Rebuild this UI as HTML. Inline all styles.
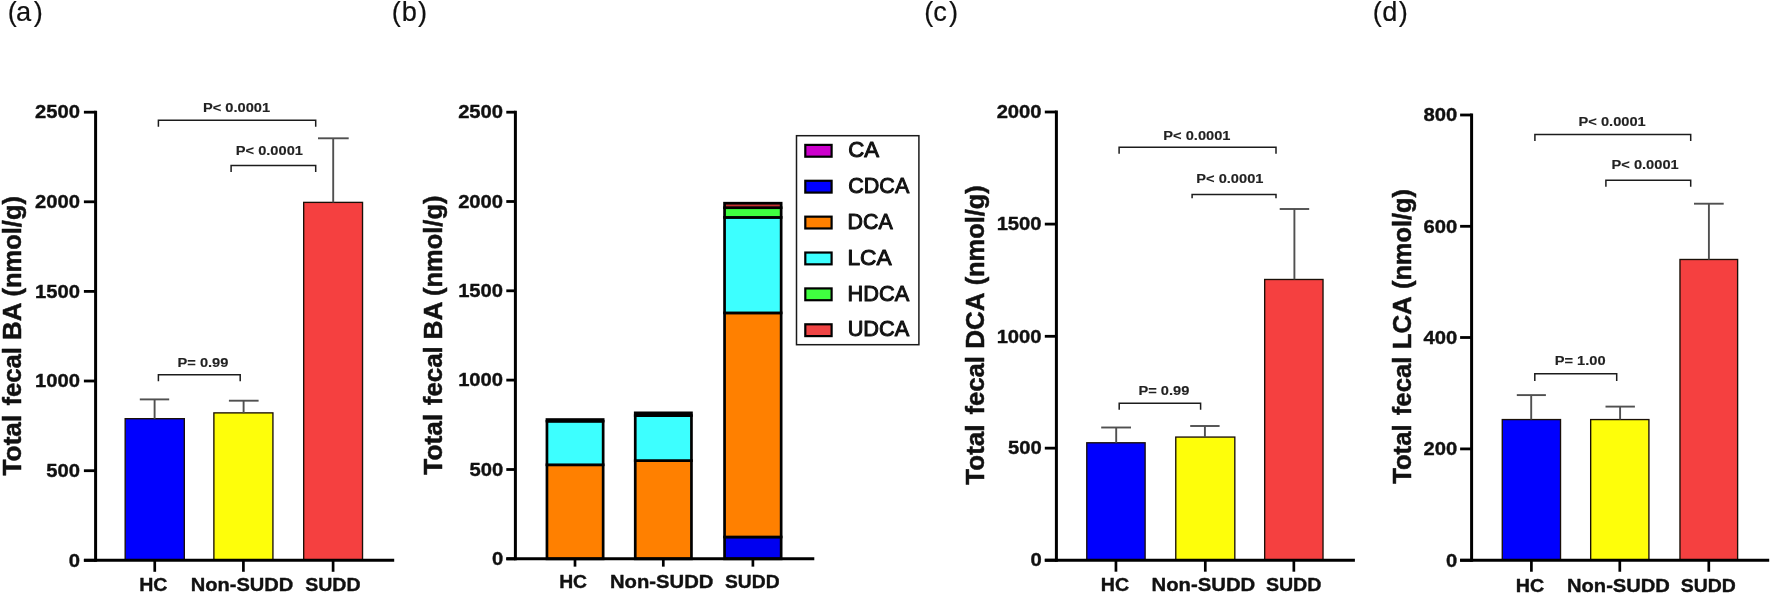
<!DOCTYPE html>
<html><head><meta charset="utf-8"><title>Fecal bile acids</title>
<style>
html,body{margin:0;padding:0;background:#fff;overflow:hidden;}
svg{display:block;filter:blur(0.35px);}
text{font-family:"Liberation Sans",sans-serif;}
</style></head><body>
<svg width="1772" height="596" viewBox="0 0 1772 596">
<rect x="0" y="0" width="1772" height="596" fill="#ffffff"/>
<text x="7.79 15.91 33.81" y="21.30" font-size="27.20" fill="#111" stroke="#111" stroke-width="0.2">(a)</text>
<text x="391.86 401.76 418.06" y="21.30" font-size="27.20" fill="#111" stroke="#111" stroke-width="0.2">(b)</text>
<text x="924.21 933.30 949.06" y="21.30" font-size="27.20" fill="#111" stroke="#111" stroke-width="0.2">(c)</text>
<text x="1372.71 1382.24 1398.66" y="21.30" font-size="27.20" fill="#111" stroke="#111" stroke-width="0.2">(d)</text>
<rect x="125.17" y="418.68" width="59.15" height="141.62" fill="#0000fe" stroke="#1a1008" stroke-width="1.35"/>
<rect x="213.88" y="412.88" width="59.05" height="147.42" fill="#fefe0a" stroke="#1a1008" stroke-width="1.35"/>
<rect x="303.68" y="202.38" width="58.85" height="357.92" fill="#f54040" stroke="#1a1008" stroke-width="1.35"/>
<line x1="154.60" y1="399.40" x2="154.60" y2="418.80" stroke="#505050" stroke-width="1.9" stroke-linecap="butt"/>
<line x1="139.80" y1="399.40" x2="169.20" y2="399.40" stroke="#505050" stroke-width="1.9" stroke-linecap="butt"/>
<line x1="243.60" y1="400.70" x2="243.60" y2="413.20" stroke="#505050" stroke-width="1.9" stroke-linecap="butt"/>
<line x1="228.90" y1="400.70" x2="258.60" y2="400.70" stroke="#505050" stroke-width="1.9" stroke-linecap="butt"/>
<line x1="333.20" y1="138.30" x2="333.20" y2="202.50" stroke="#505050" stroke-width="1.9" stroke-linecap="butt"/>
<line x1="318.00" y1="138.30" x2="348.70" y2="138.30" stroke="#505050" stroke-width="1.9" stroke-linecap="butt"/>
<line x1="95.60" y1="110.70" x2="95.60" y2="561.80" stroke="#000" stroke-width="3.0" stroke-linecap="butt"/>
<line x1="83.90" y1="560.30" x2="394.20" y2="560.30" stroke="#000" stroke-width="3.0" stroke-linecap="butt"/>
<line x1="83.90" y1="112.20" x2="95.60" y2="112.20" stroke="#000" stroke-width="2.8" stroke-linecap="butt"/>
<text transform="translate(35.04,118.49) scale(1.0750,1)" font-size="18.80" font-weight="bold" fill="#111" stroke="#111" stroke-width="0.38" stroke-linejoin="round">2500</text>
<line x1="83.90" y1="201.80" x2="95.60" y2="201.80" stroke="#000" stroke-width="2.8" stroke-linecap="butt"/>
<text transform="translate(35.04,208.09) scale(1.0750,1)" font-size="18.80" font-weight="bold" fill="#111" stroke="#111" stroke-width="0.38" stroke-linejoin="round">2000</text>
<line x1="83.90" y1="291.40" x2="95.60" y2="291.40" stroke="#000" stroke-width="2.8" stroke-linecap="butt"/>
<text transform="translate(35.04,297.69) scale(1.0750,1)" font-size="18.80" font-weight="bold" fill="#111" stroke="#111" stroke-width="0.38" stroke-linejoin="round">1500</text>
<line x1="83.90" y1="381.00" x2="95.60" y2="381.00" stroke="#000" stroke-width="2.8" stroke-linecap="butt"/>
<text transform="translate(35.04,387.29) scale(1.0750,1)" font-size="18.80" font-weight="bold" fill="#111" stroke="#111" stroke-width="0.38" stroke-linejoin="round">1000</text>
<line x1="83.90" y1="470.70" x2="95.60" y2="470.70" stroke="#000" stroke-width="2.8" stroke-linecap="butt"/>
<text transform="translate(46.36,476.99) scale(1.0750,1)" font-size="18.80" font-weight="bold" fill="#111" stroke="#111" stroke-width="0.38" stroke-linejoin="round">500</text>
<line x1="83.90" y1="560.30" x2="95.60" y2="560.30" stroke="#000" stroke-width="2.8" stroke-linecap="butt"/>
<text transform="translate(68.79,566.59) scale(1.0750,1)" font-size="18.80" font-weight="bold" fill="#111" stroke="#111" stroke-width="0.38" stroke-linejoin="round">0</text>
<line x1="154.75" y1="560.30" x2="154.75" y2="571.80" stroke="#000" stroke-width="2.7" stroke-linecap="butt"/>
<line x1="243.40" y1="560.30" x2="243.40" y2="571.80" stroke="#000" stroke-width="2.7" stroke-linecap="butt"/>
<line x1="333.10" y1="560.30" x2="333.10" y2="571.80" stroke="#000" stroke-width="2.7" stroke-linecap="butt"/>
<path d="M158.40,126.70 V120.20 H315.70 V126.70" fill="none" stroke="#1c1c1c" stroke-width="1.5"/>
<path d="M231.10,172.10 V165.50 H315.70 V172.10" fill="none" stroke="#1c1c1c" stroke-width="1.5"/>
<path d="M158.40,381.20 V374.70 H240.20 V381.20" fill="none" stroke="#1c1c1c" stroke-width="1.5"/>
<text transform="translate(202.89,112.10) scale(1.1280,1)" font-size="13.00" font-weight="bold" fill="#222" stroke="#222" stroke-width="0.12" stroke-linejoin="round">P&lt; 0.0001</text>
<text transform="translate(235.74,154.90) scale(1.1280,1)" font-size="13.00" font-weight="bold" fill="#222" stroke="#222" stroke-width="0.12" stroke-linejoin="round">P&lt; 0.0001</text>
<text transform="translate(177.50,366.70) scale(1.1280,1)" font-size="13.00" font-weight="bold" fill="#222" stroke="#222" stroke-width="0.12" stroke-linejoin="round">P= 0.99</text>
<text transform="translate(139.13,591.10) scale(1.0628,1)" font-size="18.40" font-weight="bold" fill="#111" stroke="#111" stroke-width="0.37" stroke-linejoin="round">HC</text>
<text transform="translate(190.69,591.10) scale(1.0924,1)" font-size="18.40" font-weight="bold" fill="#111" stroke="#111" stroke-width="0.37" stroke-linejoin="round">Non-SUDD</text>
<text transform="translate(305.21,591.10) scale(1.0614,1)" font-size="18.40" font-weight="bold" fill="#111" stroke="#111" stroke-width="0.37" stroke-linejoin="round">SUDD</text>
<text transform="translate(20.90,0) rotate(-90)" font-size="25.07" font-weight="bold" fill="#111" stroke="#111" stroke-width="0.5" stroke-linejoin="round"><tspan x="-475.46" textLength="60.69" lengthAdjust="spacingAndGlyphs">Total</tspan> <tspan x="-405.59" textLength="58.57" lengthAdjust="spacingAndGlyphs">fecal</tspan> <tspan x="-339.95" textLength="36.59" lengthAdjust="spacingAndGlyphs">BA</tspan> <tspan x="-296.47" textLength="100.41" lengthAdjust="spacingAndGlyphs">(nmol/g)</tspan></text>
<rect x="1086.77" y="442.78" width="58.35" height="117.43" fill="#0000fe" stroke="#1a1008" stroke-width="1.35"/>
<rect x="1175.77" y="437.07" width="59.05" height="123.13" fill="#fefe0a" stroke="#1a1008" stroke-width="1.35"/>
<rect x="1264.67" y="279.48" width="58.35" height="280.73" fill="#f54040" stroke="#1a1008" stroke-width="1.35"/>
<line x1="1116.20" y1="427.50" x2="1116.20" y2="442.80" stroke="#505050" stroke-width="1.9" stroke-linecap="butt"/>
<line x1="1101.20" y1="427.50" x2="1131.00" y2="427.50" stroke="#505050" stroke-width="1.9" stroke-linecap="butt"/>
<line x1="1204.90" y1="426.00" x2="1204.90" y2="437.10" stroke="#505050" stroke-width="1.9" stroke-linecap="butt"/>
<line x1="1190.20" y1="426.00" x2="1219.60" y2="426.00" stroke="#505050" stroke-width="1.9" stroke-linecap="butt"/>
<line x1="1294.40" y1="209.00" x2="1294.40" y2="279.40" stroke="#505050" stroke-width="1.9" stroke-linecap="butt"/>
<line x1="1279.70" y1="209.00" x2="1309.20" y2="209.00" stroke="#505050" stroke-width="1.9" stroke-linecap="butt"/>
<line x1="1056.40" y1="110.50" x2="1056.40" y2="561.70" stroke="#000" stroke-width="3.0" stroke-linecap="butt"/>
<line x1="1044.80" y1="560.20" x2="1354.90" y2="560.20" stroke="#000" stroke-width="3.0" stroke-linecap="butt"/>
<line x1="1044.80" y1="112.00" x2="1056.40" y2="112.00" stroke="#000" stroke-width="2.8" stroke-linecap="butt"/>
<text transform="translate(996.64,118.29) scale(1.0750,1)" font-size="18.80" font-weight="bold" fill="#111" stroke="#111" stroke-width="0.38" stroke-linejoin="round">2000</text>
<line x1="1044.80" y1="224.10" x2="1056.40" y2="224.10" stroke="#000" stroke-width="2.8" stroke-linecap="butt"/>
<text transform="translate(996.64,230.39) scale(1.0750,1)" font-size="18.80" font-weight="bold" fill="#111" stroke="#111" stroke-width="0.38" stroke-linejoin="round">1500</text>
<line x1="1044.80" y1="336.30" x2="1056.40" y2="336.30" stroke="#000" stroke-width="2.8" stroke-linecap="butt"/>
<text transform="translate(996.64,342.59) scale(1.0750,1)" font-size="18.80" font-weight="bold" fill="#111" stroke="#111" stroke-width="0.38" stroke-linejoin="round">1000</text>
<line x1="1044.80" y1="448.15" x2="1056.40" y2="448.15" stroke="#000" stroke-width="2.8" stroke-linecap="butt"/>
<text transform="translate(1007.96,454.44) scale(1.0750,1)" font-size="18.80" font-weight="bold" fill="#111" stroke="#111" stroke-width="0.38" stroke-linejoin="round">500</text>
<line x1="1044.80" y1="560.20" x2="1056.40" y2="560.20" stroke="#000" stroke-width="2.8" stroke-linecap="butt"/>
<text transform="translate(1030.39,566.49) scale(1.0750,1)" font-size="18.80" font-weight="bold" fill="#111" stroke="#111" stroke-width="0.38" stroke-linejoin="round">0</text>
<line x1="1115.95" y1="560.20" x2="1115.95" y2="571.70" stroke="#000" stroke-width="2.7" stroke-linecap="butt"/>
<line x1="1205.30" y1="560.20" x2="1205.30" y2="571.70" stroke="#000" stroke-width="2.7" stroke-linecap="butt"/>
<line x1="1293.85" y1="560.20" x2="1293.85" y2="571.70" stroke="#000" stroke-width="2.7" stroke-linecap="butt"/>
<path d="M1119.10,153.80 V147.30 H1276.00 V153.80" fill="none" stroke="#1c1c1c" stroke-width="1.5"/>
<path d="M1192.10,198.30 V194.40 H1276.00 V198.30" fill="none" stroke="#1c1c1c" stroke-width="1.5"/>
<path d="M1119.20,409.70 V403.30 H1200.60 V409.70" fill="none" stroke="#1c1c1c" stroke-width="1.5"/>
<text transform="translate(1163.29,140.30) scale(1.1280,1)" font-size="13.00" font-weight="bold" fill="#222" stroke="#222" stroke-width="0.12" stroke-linejoin="round">P&lt; 0.0001</text>
<text transform="translate(1196.24,183.30) scale(1.1280,1)" font-size="13.00" font-weight="bold" fill="#222" stroke="#222" stroke-width="0.12" stroke-linejoin="round">P&lt; 0.0001</text>
<text transform="translate(1138.40,395.30) scale(1.1280,1)" font-size="13.00" font-weight="bold" fill="#222" stroke="#222" stroke-width="0.12" stroke-linejoin="round">P= 0.99</text>
<text transform="translate(1100.72,591.00) scale(1.0668,1)" font-size="18.40" font-weight="bold" fill="#111" stroke="#111" stroke-width="0.37" stroke-linejoin="round">HC</text>
<text transform="translate(1151.58,591.00) scale(1.1032,1)" font-size="18.40" font-weight="bold" fill="#111" stroke="#111" stroke-width="0.37" stroke-linejoin="round">Non-SUDD</text>
<text transform="translate(1265.91,591.00) scale(1.0653,1)" font-size="18.40" font-weight="bold" fill="#111" stroke="#111" stroke-width="0.37" stroke-linejoin="round">SUDD</text>
<text transform="translate(983.60,0) rotate(-90)" font-size="25.07" font-weight="bold" fill="#111" stroke="#111" stroke-width="0.5" stroke-linejoin="round"><tspan x="-484.66" textLength="60.17" lengthAdjust="spacingAndGlyphs">Total</tspan> <tspan x="-414.58" textLength="58.46" lengthAdjust="spacingAndGlyphs">fecal</tspan> <tspan x="-348.76" textLength="55.44" lengthAdjust="spacingAndGlyphs">DCA</tspan> <tspan x="-285.37" textLength="100.10" lengthAdjust="spacingAndGlyphs">(nmol/g)</tspan></text>
<rect x="1502.27" y="419.57" width="58.25" height="140.68" fill="#0000fe" stroke="#1a1008" stroke-width="1.35"/>
<rect x="1590.67" y="419.57" width="58.25" height="140.68" fill="#fefe0a" stroke="#1a1008" stroke-width="1.35"/>
<rect x="1679.97" y="259.48" width="57.65" height="300.77" fill="#f54040" stroke="#1a1008" stroke-width="1.35"/>
<line x1="1531.20" y1="395.10" x2="1531.20" y2="419.50" stroke="#505050" stroke-width="1.9" stroke-linecap="butt"/>
<line x1="1516.80" y1="395.10" x2="1545.90" y2="395.10" stroke="#505050" stroke-width="1.9" stroke-linecap="butt"/>
<line x1="1620.10" y1="406.60" x2="1620.10" y2="419.50" stroke="#505050" stroke-width="1.9" stroke-linecap="butt"/>
<line x1="1605.50" y1="406.60" x2="1634.90" y2="406.60" stroke="#505050" stroke-width="1.9" stroke-linecap="butt"/>
<line x1="1708.90" y1="203.70" x2="1708.90" y2="259.60" stroke="#505050" stroke-width="1.9" stroke-linecap="butt"/>
<line x1="1694.00" y1="203.70" x2="1723.70" y2="203.70" stroke="#505050" stroke-width="1.9" stroke-linecap="butt"/>
<line x1="1471.60" y1="113.50" x2="1471.60" y2="561.75" stroke="#000" stroke-width="3.0" stroke-linecap="butt"/>
<line x1="1460.10" y1="560.25" x2="1769.20" y2="560.25" stroke="#000" stroke-width="3.0" stroke-linecap="butt"/>
<line x1="1460.10" y1="115.00" x2="1471.60" y2="115.00" stroke="#000" stroke-width="2.8" stroke-linecap="butt"/>
<text transform="translate(1423.46,121.29) scale(1.0750,1)" font-size="18.80" font-weight="bold" fill="#111" stroke="#111" stroke-width="0.38" stroke-linejoin="round">800</text>
<line x1="1460.10" y1="226.30" x2="1471.60" y2="226.30" stroke="#000" stroke-width="2.8" stroke-linecap="butt"/>
<text transform="translate(1423.46,232.59) scale(1.0750,1)" font-size="18.80" font-weight="bold" fill="#111" stroke="#111" stroke-width="0.38" stroke-linejoin="round">600</text>
<line x1="1460.10" y1="337.50" x2="1471.60" y2="337.50" stroke="#000" stroke-width="2.8" stroke-linecap="butt"/>
<text transform="translate(1423.46,343.79) scale(1.0750,1)" font-size="18.80" font-weight="bold" fill="#111" stroke="#111" stroke-width="0.38" stroke-linejoin="round">400</text>
<line x1="1460.10" y1="448.90" x2="1471.60" y2="448.90" stroke="#000" stroke-width="2.8" stroke-linecap="butt"/>
<text transform="translate(1423.46,455.19) scale(1.0750,1)" font-size="18.80" font-weight="bold" fill="#111" stroke="#111" stroke-width="0.38" stroke-linejoin="round">200</text>
<line x1="1460.10" y1="560.25" x2="1471.60" y2="560.25" stroke="#000" stroke-width="2.8" stroke-linecap="butt"/>
<text transform="translate(1445.89,566.54) scale(1.0750,1)" font-size="18.80" font-weight="bold" fill="#111" stroke="#111" stroke-width="0.38" stroke-linejoin="round">0</text>
<line x1="1531.40" y1="560.25" x2="1531.40" y2="571.75" stroke="#000" stroke-width="2.7" stroke-linecap="butt"/>
<line x1="1619.80" y1="560.25" x2="1619.80" y2="571.75" stroke="#000" stroke-width="2.7" stroke-linecap="butt"/>
<line x1="1708.80" y1="560.25" x2="1708.80" y2="571.75" stroke="#000" stroke-width="2.7" stroke-linecap="butt"/>
<path d="M1534.90,141.10 V134.60 H1690.70 V141.10" fill="none" stroke="#1c1c1c" stroke-width="1.5"/>
<path d="M1605.90,186.70 V180.30 H1690.70 V186.70" fill="none" stroke="#1c1c1c" stroke-width="1.5"/>
<path d="M1534.80,380.90 V373.80 H1616.70 V380.90" fill="none" stroke="#1c1c1c" stroke-width="1.5"/>
<text transform="translate(1578.54,126.40) scale(1.1280,1)" font-size="13.00" font-weight="bold" fill="#222" stroke="#222" stroke-width="0.12" stroke-linejoin="round">P&lt; 0.0001</text>
<text transform="translate(1611.49,168.80) scale(1.1280,1)" font-size="13.00" font-weight="bold" fill="#222" stroke="#222" stroke-width="0.12" stroke-linejoin="round">P&lt; 0.0001</text>
<text transform="translate(1554.64,365.40) scale(1.1280,1)" font-size="13.00" font-weight="bold" fill="#222" stroke="#222" stroke-width="0.12" stroke-linejoin="round">P= 1.00</text>
<text transform="translate(1515.82,591.90) scale(1.0709,1)" font-size="18.40" font-weight="bold" fill="#111" stroke="#111" stroke-width="0.37" stroke-linejoin="round">HC</text>
<text transform="translate(1566.99,591.90) scale(1.0956,1)" font-size="18.40" font-weight="bold" fill="#111" stroke="#111" stroke-width="0.37" stroke-linejoin="round">Non-SUDD</text>
<text transform="translate(1680.72,591.90) scale(1.0555,1)" font-size="18.40" font-weight="bold" fill="#111" stroke="#111" stroke-width="0.37" stroke-linejoin="round">SUDD</text>
<text transform="translate(1410.50,0) rotate(-90)" font-size="25.07" font-weight="bold" fill="#111" stroke="#111" stroke-width="0.5" stroke-linejoin="round"><tspan x="-483.86" textLength="59.44" lengthAdjust="spacingAndGlyphs">Total</tspan> <tspan x="-415.19" textLength="58.57" lengthAdjust="spacingAndGlyphs">fecal</tspan> <tspan x="-349.35" textLength="52.09" lengthAdjust="spacingAndGlyphs">LCA</tspan> <tspan x="-289.07" textLength="100.00" lengthAdjust="spacingAndGlyphs">(nmol/g)</tspan></text>
<rect x="546.95" y="464.80" width="56.20" height="94.05" fill="#ff8000" stroke="#000" stroke-width="2.7"/>
<rect x="546.95" y="421.30" width="56.20" height="43.50" fill="#3dffff" stroke="#000" stroke-width="2.7"/>
<rect x="545.60" y="418.20" width="58.90" height="4.20" fill="#000"/>
<rect x="635.25" y="460.60" width="56.20" height="98.25" fill="#ff8000" stroke="#000" stroke-width="2.7"/>
<rect x="635.25" y="415.60" width="56.20" height="45.00" fill="#3dffff" stroke="#000" stroke-width="2.7"/>
<rect x="633.90" y="411.50" width="58.90" height="5.40" fill="#000"/>
<rect x="724.55" y="537.00" width="56.60" height="21.85" fill="#0000f0" stroke="#000" stroke-width="2.7"/>
<rect x="724.55" y="312.90" width="56.60" height="224.10" fill="#ff8000" stroke="#000" stroke-width="2.7"/>
<rect x="724.55" y="217.40" width="56.60" height="95.50" fill="#3dffff" stroke="#000" stroke-width="2.7"/>
<rect x="724.55" y="207.70" width="56.60" height="9.70" fill="#40ff40" stroke="#000" stroke-width="2.7"/>
<rect x="724.55" y="203.20" width="56.60" height="4.50" fill="#c03030" stroke="#000" stroke-width="2.7"/>
<line x1="515.40" y1="110.70" x2="515.40" y2="560.35" stroke="#000" stroke-width="3.0" stroke-linecap="butt"/>
<line x1="506.30" y1="558.85" x2="814.30" y2="558.85" stroke="#000" stroke-width="3.0" stroke-linecap="butt"/>
<line x1="506.30" y1="112.20" x2="515.40" y2="112.20" stroke="#000" stroke-width="2.8" stroke-linecap="butt"/>
<text transform="translate(458.14,118.49) scale(1.0750,1)" font-size="18.80" font-weight="bold" fill="#111" stroke="#111" stroke-width="0.38" stroke-linejoin="round">2500</text>
<line x1="506.30" y1="201.50" x2="515.40" y2="201.50" stroke="#000" stroke-width="2.8" stroke-linecap="butt"/>
<text transform="translate(458.14,207.79) scale(1.0750,1)" font-size="18.80" font-weight="bold" fill="#111" stroke="#111" stroke-width="0.38" stroke-linejoin="round">2000</text>
<line x1="506.30" y1="290.80" x2="515.40" y2="290.80" stroke="#000" stroke-width="2.8" stroke-linecap="butt"/>
<text transform="translate(458.14,297.09) scale(1.0750,1)" font-size="18.80" font-weight="bold" fill="#111" stroke="#111" stroke-width="0.38" stroke-linejoin="round">1500</text>
<line x1="506.30" y1="380.10" x2="515.40" y2="380.10" stroke="#000" stroke-width="2.8" stroke-linecap="butt"/>
<text transform="translate(458.14,386.39) scale(1.0750,1)" font-size="18.80" font-weight="bold" fill="#111" stroke="#111" stroke-width="0.38" stroke-linejoin="round">1000</text>
<line x1="506.30" y1="469.50" x2="515.40" y2="469.50" stroke="#000" stroke-width="2.8" stroke-linecap="butt"/>
<text transform="translate(469.46,475.79) scale(1.0750,1)" font-size="18.80" font-weight="bold" fill="#111" stroke="#111" stroke-width="0.38" stroke-linejoin="round">500</text>
<line x1="506.30" y1="558.85" x2="515.40" y2="558.85" stroke="#000" stroke-width="2.8" stroke-linecap="butt"/>
<text transform="translate(491.89,565.14) scale(1.0750,1)" font-size="18.80" font-weight="bold" fill="#111" stroke="#111" stroke-width="0.38" stroke-linejoin="round">0</text>
<line x1="575.00" y1="558.85" x2="575.00" y2="566.65" stroke="#000" stroke-width="2.7" stroke-linecap="butt"/>
<line x1="663.30" y1="558.85" x2="663.30" y2="566.65" stroke="#000" stroke-width="2.7" stroke-linecap="butt"/>
<line x1="752.90" y1="558.85" x2="752.90" y2="566.65" stroke="#000" stroke-width="2.7" stroke-linecap="butt"/>
<text transform="translate(559.14,587.60) scale(1.0175,1)" font-size="19.00" font-weight="bold" fill="#111" stroke="#111" stroke-width="0.38" stroke-linejoin="round">HC</text>
<text transform="translate(609.98,587.60) scale(1.0653,1)" font-size="19.00" font-weight="bold" fill="#111" stroke="#111" stroke-width="0.38" stroke-linejoin="round">Non-SUDD</text>
<text transform="translate(725.02,587.60) scale(1.0145,1)" font-size="19.00" font-weight="bold" fill="#111" stroke="#111" stroke-width="0.38" stroke-linejoin="round">SUDD</text>
<text transform="translate(441.50,0) rotate(-90)" font-size="25.07" font-weight="bold" fill="#111" stroke="#111" stroke-width="0.5" stroke-linejoin="round"><tspan x="-474.66" textLength="60.89" lengthAdjust="spacingAndGlyphs">Total</tspan> <tspan x="-405.19" textLength="58.98" lengthAdjust="spacingAndGlyphs">fecal</tspan> <tspan x="-339.47" textLength="37.02" lengthAdjust="spacingAndGlyphs">BA</tspan> <tspan x="-296.07" textLength="100.51" lengthAdjust="spacingAndGlyphs">(nmol/g)</tspan></text>
<rect x="796.50" y="135.70" width="122.40" height="209.00" fill="#fff" stroke="#1a1a1a" stroke-width="1.5"/>
<rect x="805.30" y="144.90" width="26.30" height="11.80" fill="#cc00cc" stroke="#000" stroke-width="2.2"/>
<text transform="translate(848.19,157.30) scale(0.9904,1)" font-size="22.46" font-weight="normal" fill="#111" stroke="#111" stroke-width="1.0" stroke-linejoin="round">CA</text>
<rect x="805.30" y="180.78" width="26.30" height="11.80" fill="#0000fe" stroke="#000" stroke-width="2.2"/>
<text transform="translate(848.22,193.10) scale(0.9592,1)" font-size="22.46" font-weight="normal" fill="#111" stroke="#111" stroke-width="1.0" stroke-linejoin="round">CDCA</text>
<rect x="805.30" y="216.66" width="26.30" height="11.80" fill="#ff8000" stroke="#000" stroke-width="2.2"/>
<text transform="translate(847.59,228.90) scale(0.9517,1)" font-size="22.46" font-weight="normal" fill="#111" stroke="#111" stroke-width="1.0" stroke-linejoin="round">DCA</text>
<rect x="805.30" y="252.54" width="26.30" height="11.80" fill="#3dffff" stroke="#000" stroke-width="2.2"/>
<text transform="translate(847.48,264.70) scale(1.0121,1)" font-size="22.46" font-weight="normal" fill="#111" stroke="#111" stroke-width="1.0" stroke-linejoin="round">LCA</text>
<rect x="805.30" y="288.42" width="26.30" height="11.80" fill="#40ff40" stroke="#000" stroke-width="2.2"/>
<text transform="translate(847.56,300.50) scale(0.9696,1)" font-size="22.46" font-weight="normal" fill="#111" stroke="#111" stroke-width="1.0" stroke-linejoin="round">HDCA</text>
<rect x="805.30" y="324.30" width="26.30" height="11.80" fill="#f04545" stroke="#000" stroke-width="2.2"/>
<text transform="translate(847.67,336.30) scale(0.9679,1)" font-size="22.46" font-weight="normal" fill="#111" stroke="#111" stroke-width="1.0" stroke-linejoin="round">UDCA</text>
</svg>
</body></html>
